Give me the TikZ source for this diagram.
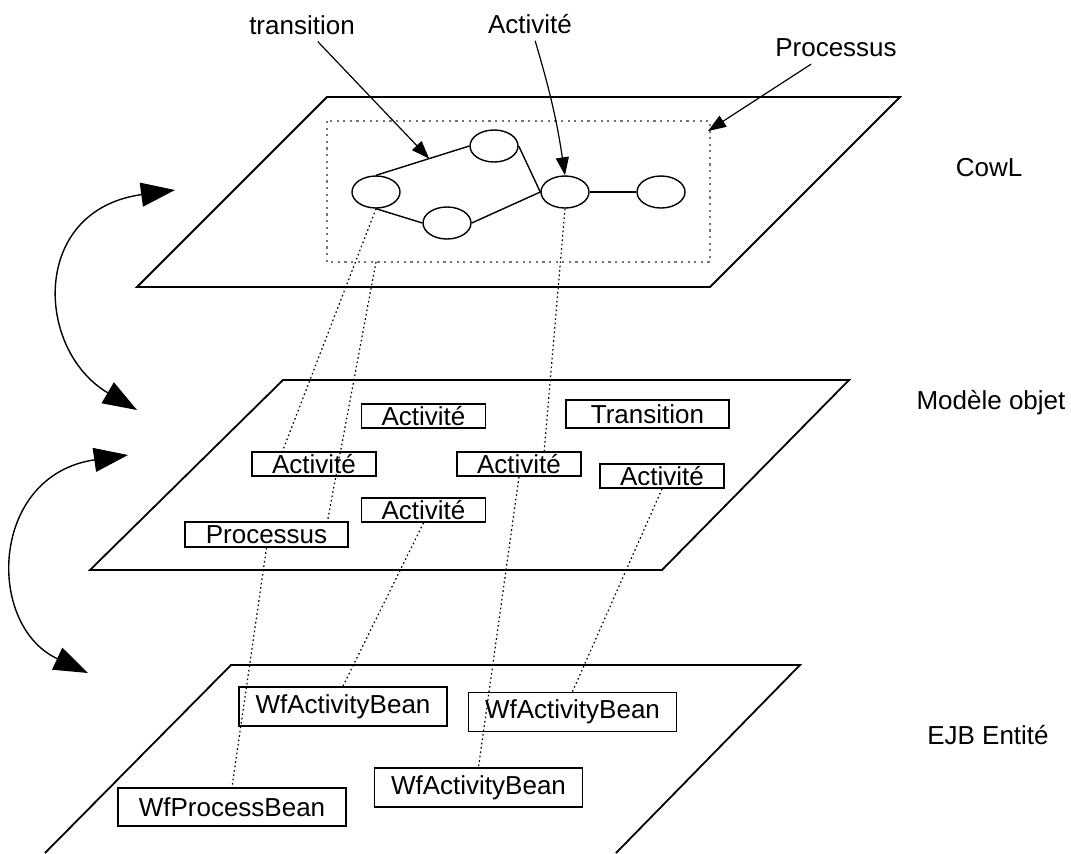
\documentclass[tikz,border=0pt]{standalone}
\usepackage{fontspec}
\setmainfont{Liberation Sans}
\usetikzlibrary{arrows.meta,shapes.geometric,calc}
\tikzset{
  plan/.style={line width=0.9pt},
  etat/.style={draw,ellipse,line width=0.7pt,minimum width=24pt,minimum height=16pt,inner sep=0pt},
  lien/.style={line width=0.7pt},
  boite/.style={draw,line width=0.9pt,inner sep=0pt,minimum width=62pt,minimum height=12pt},
  grande/.style={boite,minimum width=104pt,minimum height=19.5pt},
  fleche/.style={line width=0.6pt,-{Triangle[length=9pt,width=6.5pt]}},
  courbe/.style={line width=0.7pt,{Triangle[length=17pt,width=12pt]}-{Triangle[length=17pt,width=12pt]}},
  pointille/.style={line width=0.6pt,dash pattern=on 0.8pt off 1.4pt},
}
\begin{document}
\begin{tikzpicture}[x=0.5pt,y=-0.5pt,font=\fontsize{13}{15}\selectfont]
    \useasboundingbox (0,0) rectangle (1071,853);
    % Les trois plans
    \draw[plan] (327,97) -- (900,97) -- (710,287) -- (137,287) -- cycle;
    \draw[plan] (283,380) -- (849,380) -- (662,570) -- (90,570) -- cycle;
    \draw[plan] (45,853) -- (231,665) -- (800,665) -- (616,853);
    % Niveau CowL
    \draw[black!55,line width=1.2pt,dash pattern=on 1.1pt off 2.2pt] (327,121) rectangle (710,262);
    \coordinate (rs) at (376,262);
    \coordinate (rne) at (708,131);
    \node[etat] (e1) at (376,192) {};
    \node[etat] (e2) at (494,146) {};
    \node[etat] (e3) at (447,223) {};
    \node[etat] (e4) at (565,192) {};
    \node[etat] (e5) at (661,192) {};
    \draw[lien] (e1.north) -- (e2.west) coordinate[pos=.57] (mt);
    \draw[lien] (e1.south) -- (e3.west);
    \draw[lien] (e3.east) -- (e4.west);
    \draw[lien] (e2.east) -- (e4.west);
    \draw[lien] (e4.east) -- (e5.west);
    % Etiquettes
    \node (trlab) at (302,25) {transition};
    \node (aclab) at (530,24) {Activité};
    \node (prlab) at (836,48) {Processus};
    \draw[fleche] (trlab) -- (mt);
    \draw[fleche] (aclab) to[bend left=4] (e4.north);
    \draw[fleche] (prlab) -- (rne);
    \node (cowl) at (989,168) {CowL};
    \node (modele) at (991,403) {Modèle objet};
    \node (ejb) at (988,735) {EJB Entité};
    % Modele objet
    \node[boite] (aT) at (423.5,416) {Activité};
    \node[boite,minimum width=81.5pt,minimum height=14pt] (tr) at (647.5,414) {Transition};
    \node[boite] (aL) at (314,464) {Activité};
    \node[boite] (aM) at (519,464) {Activité};
    \node[boite] (aR) at (662,476) {Activité};
    \node[boite] (aB) at (423.5,510) {Activité};
    \node[boite,minimum width=81.5pt,minimum height=12.5pt] (pr) at (266.5,534.5) {Processus};
    % EJB
    \node[grande] (wab1) at (343,706.5) {WfActivityBean};
    \node[grande] (wab2) at (572.5,712) {WfActivityBean};
    \node[grande] (wab3) at (478.5,787.5) {WfActivityBean};
    \node[grande,minimum width=114pt,minimum height=19pt] (wpb) at (232,807) {WfProcessBean};
    % Correspondances
    \draw[pointille] (e1.south) -- ($(aL.north west)!.25!(aL.north east)$);
    \draw[pointille] (rs) -- ($(pr.north west)!.87!(pr.north east)$);
    \draw[pointille] (e4.south) -- ($(aM.north west)!.7!(aM.north east)$);
    \draw[pointille] (pr.south) -- (wpb.north);
    \draw[pointille] (aB.south) -- (wab1.north);
    \draw[pointille] (aM.south) -- (wab3.north);
    \draw[pointille] (aR.south) -- (wab2.north);
    % Fleches courbes
    \coordinate (h1) at (175,190);
    \coordinate (b1) at (137,410);
    \coordinate (h2) at (128,455);
    \coordinate (b2) at (88,673);
    \draw[courbe] (h1) .. controls (30,210) and (35,350) .. (b1);
    \draw[courbe] (h2) .. controls (-10,475) and (-15,625) .. (b2);
\end{tikzpicture}
\end{document}
